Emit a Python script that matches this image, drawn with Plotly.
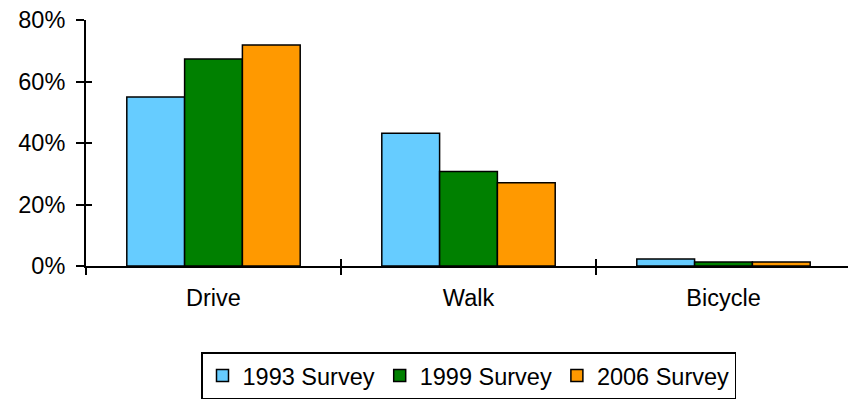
import plotly.graph_objects as go

categories = ["Drive", "Walk", "Bicycle"]
survey_names = ["1993 Survey", "1999 Survey", "2006 Survey"]
share_1993 = [0.55, 0.432, 0.023]
share_1999 = [0.673, 0.307, 0.013]
share_2006 = [0.719, 0.271, 0.013]
y_ticks = [0, 0.2, 0.4, 0.6, 0.8]

colors = ["#66CCFF", "#008000", "#FF9900"]
font = "Liberation Sans, Arial, sans-serif"

fig = go.Figure()
for name, vals, col in zip(survey_names, [share_1993, share_1999, share_2006], colors):
    fig.add_trace(go.Bar(
        x=categories, y=vals, name=name,
        marker=dict(color=col, line=dict(color="black", width=1.5)),
    ))

# dummy trace so the overlay axes (inner half of the crossing ticks) are drawn
fig.add_trace(go.Scatter(x=[], y=[], xaxis="x2", yaxis="y2", showlegend=False))

# plot area runs a few px past the right edge of the window, as in the original
fig.update_layout(
    width=851, height=401,
    margin=dict(l=86, r=0, t=20, b=135, autoexpand=False),
    paper_bgcolor="white", plot_bgcolor="white",
    font=dict(family=font, size=23.5, color="black"),
    barmode="group", bargap=0.32, bargroupgap=0,
    showlegend=True,
    legend=dict(
        orientation="h", x=0.5, xanchor="center", y=-0.35, yanchor="top",
        bordercolor="black", borderwidth=1.5, font=dict(size=23.5),
        itemwidth=30, tracegroupgap=0,
    ),
    xaxis=dict(
        type="category", tickson="boundaries", ticks="outside", ticklen=7,
        tickwidth=1.5, tickcolor="black", showline=True, linecolor="black",
        linewidth=2, showgrid=False, zeroline=False,
        ticklabelstandoff=10,
    ),
    yaxis=dict(
        range=[0, 0.8], tickvals=y_ticks, tickformat=".0%", ticks="outside",
        ticklen=8, tickwidth=1.5, tickcolor="black", showline=True,
        linecolor="black", linewidth=2, showgrid=False, zeroline=False,
        ticklabelstandoff=6,
    ),
    xaxis2=dict(
        overlaying="x", range=[-0.5, 2.5], tickvals=[0.5, 1.5], ticks="inside",
        ticklen=7, tickwidth=1.5, tickcolor="black", showticklabels=False,
        showgrid=False, zeroline=False, showline=False, side="bottom",
        anchor="y2",
    ),
    yaxis2=dict(
        overlaying="y", range=[0, 0.8], tickvals=y_ticks, ticks="inside",
        ticklen=6, tickwidth=1.5, tickcolor="black", showticklabels=False,
        showgrid=False, zeroline=False, showline=False, side="left",
        anchor="x2",
    ),
)

# drop the browser's default 8px body margin and any scrollbars
fig.write_html(
    "out.html",
    config={"displayModeBar": False},
    post_script="document.body.style.margin='0';document.body.style.overflow='hidden';",
)
